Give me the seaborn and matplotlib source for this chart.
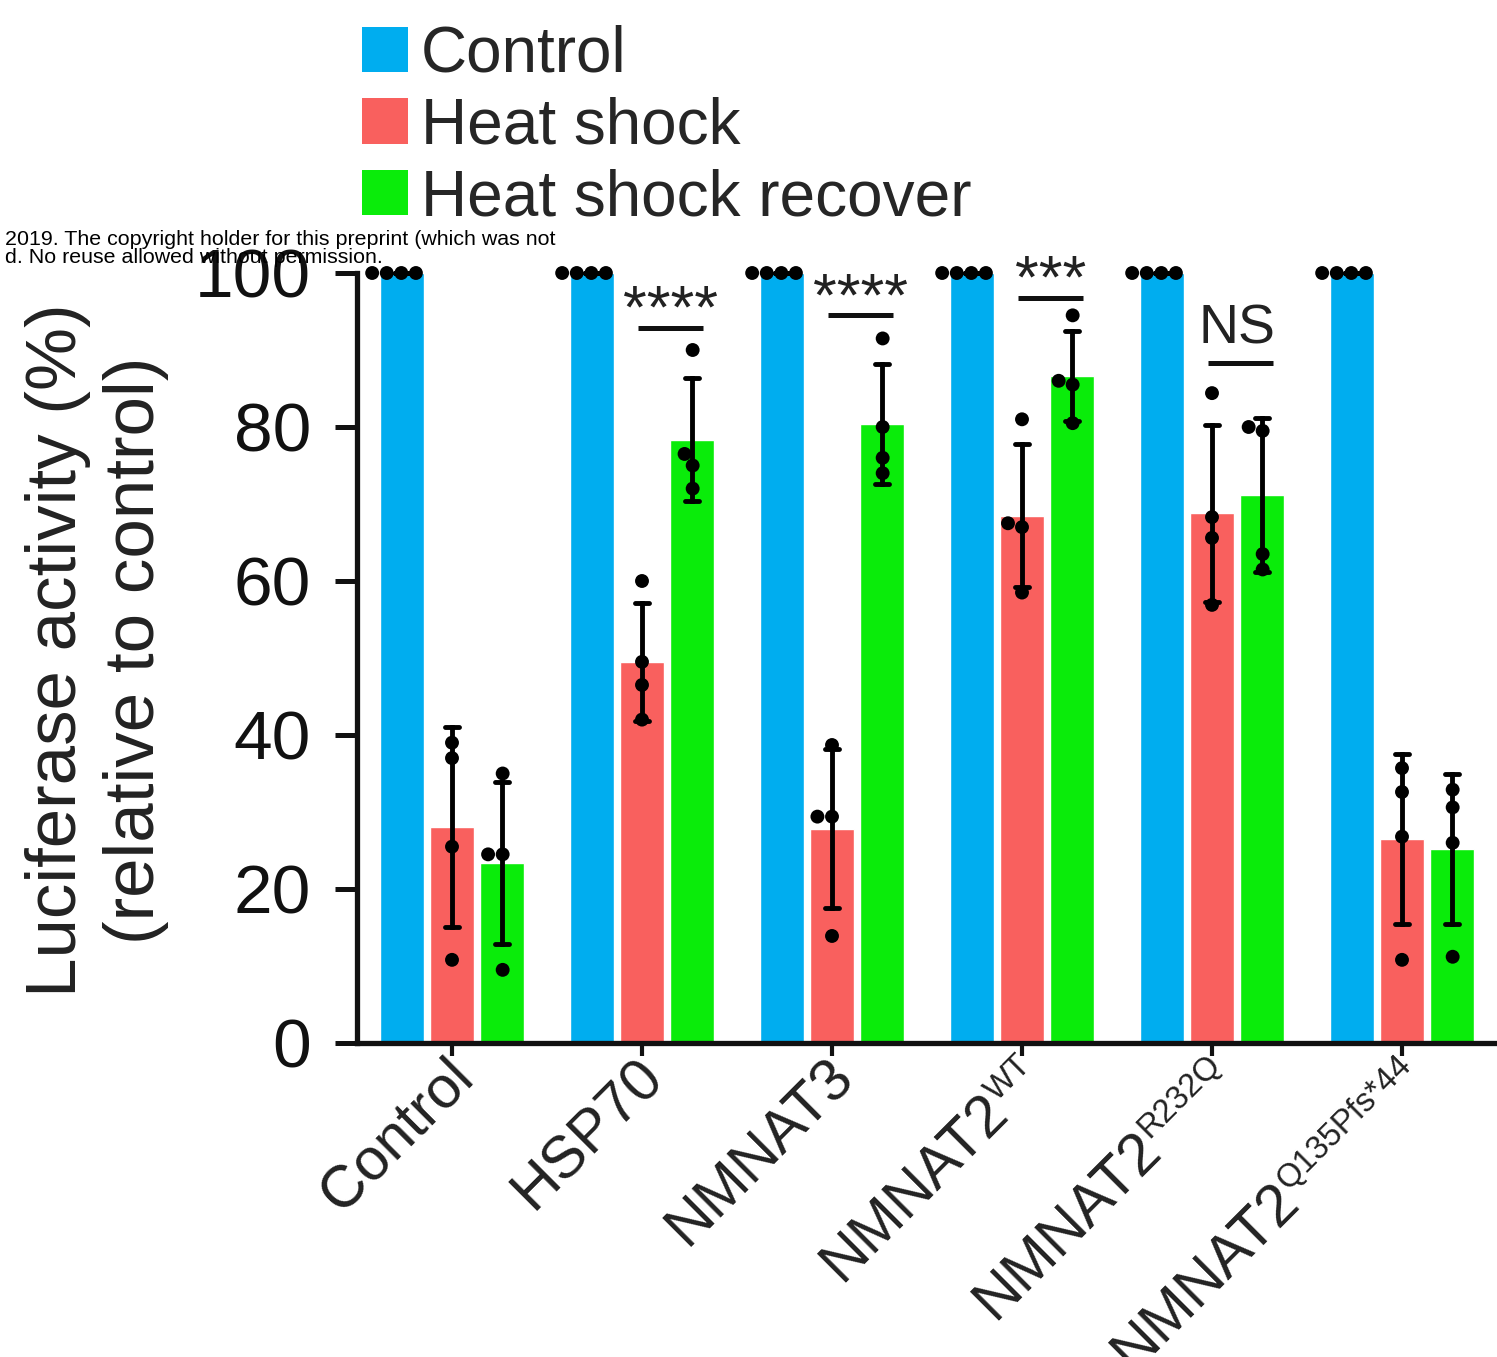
import numpy as np
import pandas as pd
import matplotlib
matplotlib.use("Agg")
import matplotlib.pyplot as plt
import matplotlib.transforms as mtransforms
from matplotlib.font_manager import FontProperties
from matplotlib.textpath import TextToPath
import seaborn as sns
from matplotlib.patches import Patch

# ---------------- data ----------------
groups = ["Control", "HSP70", "NMNAT3", "NMNAT2WT", "NMNAT2R232Q", "NMNAT2Q135Pfs*44"]
tick_base = ["Control", "HSP70", "NMNAT3", "NMNAT2", "NMNAT2", "NMNAT2"]
tick_sup = ["", "", "", "WT", "R232Q", "Q135Pfs*44"]
conditions = ["Control", "Heat shock", "Heat shock recover"]

control_vals = [[100, 100, 100, 100],
                [100, 100, 100, 100],
                [100, 100, 100, 100],
                [100, 100, 100, 100],
                [100, 100, 100, 100],
                [100, 100, 100, 100]]
heat_shock_vals = [[39.0, 37.0, 25.5, 10.8],
                   [60.0, 49.5, 46.5, 42.0],
                   [38.7, 29.4, 29.4, 13.9],
                   [81.0, 67.5, 67.0, 58.5],
                   [84.4, 68.3, 65.6, 56.9],
                   [35.7, 32.6, 26.8, 10.8]]
recover_vals = [[35.0, 24.5, 24.5, 9.5],
                [90.0, 76.5, 75.0, 72.0],
                [91.5, 80.0, 76.0, 74.0],
                [94.5, 86.0, 85.5, 80.5],
                [80.0, 79.5, 63.5, 61.5],
                [32.9, 30.6, 26.0, 11.2]]

sig_groups = [1, 2, 3, 4]
sig_labels = ["****", "****", "***", "NS"]
sig_line_y = [92.9, 94.5, 96.8, 88.3]

colors = ["#00ADEF", "#F9605E", "#0AEC0A"]

# ---------------- style ----------------
sns.set_theme(style="ticks")
plt.rcParams['font.family'] = ['Liberation Sans', 'DejaVu Sans']

rows = []
for gi, g in enumerate(groups):
    for cond, arr in zip(conditions, [control_vals, heat_shock_vals, recover_vals]):
        for v in arr[gi]:
            rows.append({"group": g, "condition": cond, "value": v})
df = pd.DataFrame(rows)

W, H = 1497, 1357
fig = plt.figure(figsize=(W / 100, H / 100), dpi=100)
ax = fig.add_axes([357 / W, 1 - 1043 / H, 1 - 357 / W, (1043 - 273) / H])

sns.barplot(data=df, x="group", y="value", hue="condition",
            order=groups, hue_order=conditions, palette=colors,
            estimator="mean", errorbar="sd", capsize=0.23,
            err_kws={"color": "black", "linewidth": 3.5},
            width=0.79, gap=0.13, saturation=1, legend=False, ax=ax)
sns.swarmplot(data=df, x="group", y="value", hue="condition",
              order=groups, hue_order=conditions, dodge=True,
              palette=["black"] * 3, size=10, legend=False, ax=ax)

for ln in ax.lines:
    ln.set_clip_on(False)
for c in ax.collections:
    c.set_clip_on(False)

ax.set_xlim(-0.5, 5.5)
ax.set_ylim(0, 100)
ax.set_yticks([0, 20, 40, 60, 80, 100])
ax.tick_params(axis="y", labelsize=50, length=16, width=3.6, pad=17, colors="#111111")
xt_len, xt_pad = 9, 4
ax.tick_params(axis="x", length=xt_len, width=3.0, pad=xt_pad, colors="#111111")
ax.set_xlabel("")
ax.set_ylabel("")
sns.despine(ax=ax)
for s in ["left", "bottom"]:
    ax.spines[s].set_linewidth(3.8)
    ax.spines[s].set_color("#111111")

# x tick labels (base text as tick labels, superscripts as extra text)
base_fs, sup_fs = 42.5, 23.5
gdx, gdy = 9.0, -5.0   # global shift of labels, points
c45 = np.cos(np.deg2rad(45))
ttp = TextToPath()
sup_prop = FontProperties(family="Liberation Sans", size=sup_fs)
ax.set_xticks(range(len(groups)))
ax.set_xticklabels(tick_base, rotation=45, ha="right", va="center",
                   rotation_mode="anchor", fontsize=base_fs, color="#222222")
for i, lab in enumerate(ax.get_xticklabels()):
    sw = 0.0
    if tick_sup[i]:
        sw = ttp.get_text_width_height_descent(tick_sup[i], sup_prop, ismath=False)[0]
    off = mtransforms.ScaledTranslation((gdx - sw * c45) / 72, (gdy - sw * c45) / 72,
                                        fig.dpi_scale_trans)
    lab.set_transform(lab.get_transform() + off)
    if tick_sup[i]:
        ax.annotate(tick_sup[i], xy=(i, 0), xycoords=("data", "axes fraction"),
                    xytext=(gdx - 2 * c45, -(xt_len + xt_pad) + gdy + 2 * c45),
                    textcoords="offset points", rotation=45, rotation_mode="anchor",
                    ha="right", va="baseline", fontsize=sup_fs, color="#222222",
                    annotation_clip=False)

# significance annotations
for g, lab, ly in zip(sig_groups, sig_labels, sig_line_y):
    ax.plot([g - 0.02, g + 0.32], [ly, ly], color="#111111", lw=3.6,
            solid_capstyle="butt", clip_on=False)
    if lab == "NS":
        ax.text(g + 0.13, ly + 2.6, lab, ha="center", va="baseline",
                fontsize=40, color="#222222")
    else:
        ax.text(g + 0.15, ly, lab, ha="center", va="baseline",
                fontsize=44, color="#222222")

# y-label
fig.text(97 / W, 1 - 650 / H, "Luciferase activity (%)\n(relative to control)",
         rotation=90, ha="center", va="center", multialignment="center",
         fontsize=51, color="#222222", linespacing=1.25)

# legend
handles = [Patch(facecolor=c, edgecolor="none") for c in colors]
fig.legend(handles, conditions, loc="upper left",
           bbox_to_anchor=(362 / W, 1 - 25 / H), frameon=False, fontsize=46,
           handlelength=0.72, handleheight=0.72, handletextpad=0.2,
           labelspacing=0.18, borderpad=0, borderaxespad=0)

# overlaid preprint text
fig.text(5 / W, 1 - 230 / H,
         "2019. The copyright holder for this preprint (which was not\n"
         "d. No reuse allowed without permission.",
         ha="left", va="top", fontsize=15.4, color="black", linespacing=0.95)

fig.savefig("out.png", dpi=100)
